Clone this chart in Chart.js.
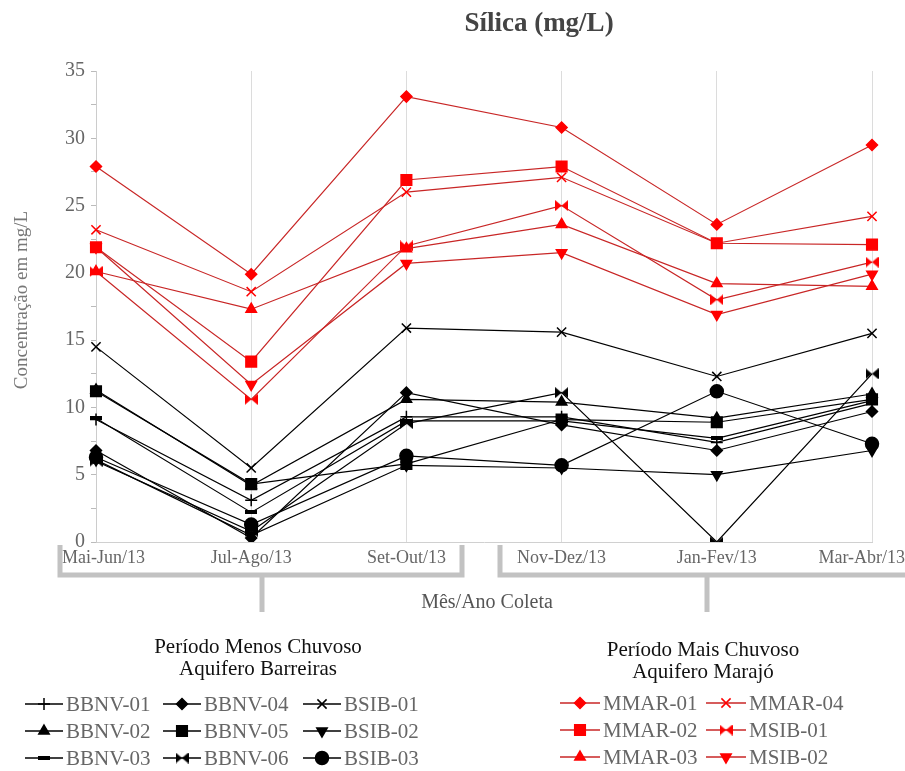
<!DOCTYPE html>
<html>
<head>
<meta charset="utf-8">
<script src="https://cdn.jsdelivr.net/npm/chart.js@4.4.0/dist/chart.umd.min.js"></script>
<style>
  html, body { margin: 0; padding: 0; background: #fff; }
</style>
</head>
<body>
<canvas id="chart" width="905" height="771"></canvas>
<script>
const categories = ['Mai-Jun/13', 'Jul-Ago/13', 'Set-Out/13', 'Nov-Dez/13', 'Jan-Fev/13', 'Mar-Abr/13'];

// Aquifero Barreiras (pretas)
const bbnv01 = [9.1, 3.1, 9.3, 9.3, 7.4, 10.3];
const bbnv02 = [11.3, 4.2, 10.6, 10.4, 9.2, 11.0];
const bbnv03 = [9.2, 2.2, 9.0, 9.0, 7.7, 10.5];
const bbnv04 = [6.8, 0.3, 11.1, 8.7, 6.8, 9.7];
const bbnv05 = [11.2, 4.3, 5.8, 9.1, 8.9, 10.6];
const bbnv06 = [6.0, 0.8, 8.8, 11.1, 0.0, 12.5];
const bsib01 = [14.5, 5.5, 15.9, 15.6, 12.3, 15.5];
const bsib02 = [6.1, 0.5, 5.7, 5.5, 5.0, 6.8];
const bsib03 = [6.3, 1.3, 6.4, 5.7, 11.2, 7.3];

// Aquifero Marajó (vermelhas)
const mmar01 = [27.9, 19.9, 33.1, 30.8, 23.6, 29.5];
const mmar02 = [21.9, 13.4, 26.9, 27.9, 22.2, 22.1];
const mmar03 = [20.1, 17.3, 21.8, 23.6, 19.2, 19.0];
const mmar04 = [23.2, 18.6, 26.0, 27.1, 22.2, 24.2];
const msib01 = [20.1, 10.6, 22.0, 25.0, 18.0, 20.8];
const msib02 = [21.9, 11.7, 20.7, 21.5, 16.9, 19.9];

const titleText = 'Sílica (mg/L)';
const yTitle = 'Concentração em mg/L';
const xTitle = 'Mês/Ano Coleta';
const groupLeft = ['Período Menos Chuvoso', 'Aquifero Barreiras'];
const groupRight = ['Período Mais Chuvoso', 'Aquifero Marajó'];

const BLACK = '#000';
const RED_LINE = '#c82626';
const RED_PT = '#f00';
const SERIF = '"Liberation Serif", "DejaVu Serif", serif';

// marcadores desenhados a mao
function bowtie(color) {
  const c = document.createElement('canvas');
  c.width = 13; c.height = 11;
  const g = c.getContext('2d');
  g.fillStyle = color;
  g.beginPath(); g.moveTo(0, 0); g.lineTo(6.5, 5.5); g.lineTo(0, 11); g.closePath(); g.fill();
  g.beginPath(); g.moveTo(13, 0); g.lineTo(6.5, 5.5); g.lineTo(13, 11); g.closePath(); g.fill();
  return c;
}
function dash(color) {
  const c = document.createElement('canvas');
  c.width = 12; c.height = 4;
  const g = c.getContext('2d');
  g.fillStyle = color;
  g.fillRect(0, 0, 12, 4);
  return c;
}

function series(label, data, color, lineColor, style, radius, rotation) {
  return {
    label: label,
    data: data,
    borderColor: lineColor,
    backgroundColor: color,
    borderWidth: 1.2,
    pointStyle: style,
    pointRadius: radius,
    pointRotation: rotation || 0,
    pointBackgroundColor: color,
    pointBorderColor: color,
    pointBorderWidth: 1.5,
    tension: 0,
    fill: false
  };
}

const blackSets = [
  series('BBNV-01', bbnv01, BLACK, BLACK, 'cross', 6),
  series('BBNV-02', bbnv02, BLACK, BLACK, 'triangle', 6),
  series('BBNV-03', bbnv03, BLACK, BLACK, dash(BLACK), 6),
  series('BBNV-04', bbnv04, BLACK, BLACK, 'rectRot', 5.5),
  series('BBNV-05', bbnv05, BLACK, BLACK, 'rect', 7.5),
  series('BBNV-06', bbnv06, BLACK, BLACK, bowtie(BLACK), 6),
  series('BSIB-01', bsib01, BLACK, BLACK, 'crossRot', 6.5),
  series('BSIB-02', bsib02, BLACK, BLACK, 'triangle', 6, 180),
  series('BSIB-03', bsib03, BLACK, BLACK, 'circle', 6.5)
];
const redSets = [
  series('MMAR-01', mmar01, RED_PT, RED_LINE, 'rectRot', 5.5),
  series('MMAR-02', mmar02, RED_PT, RED_LINE, 'rect', 7.5),
  series('MMAR-03', mmar03, RED_PT, RED_LINE, 'triangle', 6),
  series('MMAR-04', mmar04, RED_PT, RED_LINE, 'crossRot', 6.5),
  series('MSIB-01', msib01, RED_PT, RED_LINE, bowtie(RED_PT), 6),
  series('MSIB-02', msib02, RED_PT, RED_LINE, 'triangle', 6, 180)
];

function drawMarker(ctx, ds, cx, cy) {
  ctx.fillStyle = ds.pointBackgroundColor;
  ctx.strokeStyle = ds.pointBorderColor;
  ctx.lineWidth = ds.pointBorderWidth;
  Chart.helpers.drawPoint(ctx, {
    pointStyle: ds.pointStyle,
    radius: ds.pointRadius,
    rotation: ds.pointRotation,
    borderWidth: ds.pointBorderWidth
  }, cx, cy);
}

function drawItem(ctx, ds, x0, len, y) {
  ctx.strokeStyle = ds.borderColor;
  ctx.lineWidth = 1.3;
  ctx.beginPath(); ctx.moveTo(x0, y); ctx.lineTo(x0 + len, y); ctx.stroke();
  drawMarker(ctx, ds, x0 + len / 2, y);
  ctx.fillStyle = '#666';
  ctx.font = '21px ' + SERIF;
  ctx.textAlign = 'left';
  ctx.textBaseline = 'middle';
  ctx.fillText(ds.label, x0 + len + 3, y + 1);
}

const extras = {
  id: 'extras',
  afterDraw(chart) {
    const ctx = chart.ctx;
    const xs = chart.scales.x;
    ctx.save();

    // titulo
    ctx.font = 'bold 27px ' + SERIF;
    ctx.fillStyle = '#444';
    ctx.textAlign = 'center';
    ctx.textBaseline = 'middle';
    ctx.fillText(titleText, 539, 24);

    // rotulos das categorias
    ctx.font = '18px ' + SERIF;
    ctx.fillStyle = '#666';
    categories.forEach((c, i) => {
      const w = ctx.measureText(c).width;
      let cx = xs.getPixelForValue(i);
      cx = Math.max(cx, 62 + w / 2);
      cx = Math.min(cx, chart.width - w / 2);
      ctx.fillText(c, cx, 558);
    });

    // chaves cinzas
    ctx.strokeStyle = '#c2c2c2';
    ctx.lineWidth = 5;
    ctx.beginPath();
    ctx.moveTo(60, 545); ctx.lineTo(60, 575); ctx.lineTo(462, 575); ctx.lineTo(462, 545);
    ctx.moveTo(262, 575); ctx.lineTo(262, 612);
    ctx.moveTo(500, 545); ctx.lineTo(500, 575); ctx.lineTo(910, 575);
    ctx.moveTo(707, 575); ctx.lineTo(707, 612);
    ctx.stroke();

    ctx.font = '20px ' + SERIF;
    ctx.fillStyle = '#555';
    ctx.fillText(xTitle, 487, 603);

    // titulo eixo y
    ctx.save();
    ctx.translate(22, 300);
    ctx.rotate(-Math.PI / 2);
    ctx.font = '19px ' + SERIF;
    ctx.fillStyle = '#777';
    ctx.fillText(yTitle, 0, 0);
    ctx.restore();

    // legendas
    ctx.font = '21px ' + SERIF;
    ctx.fillStyle = '#111';
    ctx.textAlign = 'center';
    ctx.fillText(groupLeft[0], 258, 647);
    ctx.fillText(groupLeft[1], 258, 669);
    ctx.fillText(groupRight[0], 703, 650);
    ctx.fillText(groupRight[1], 703, 672);

    const sets = chart.data.datasets;
    const rowsL = [704, 731, 758];
    const colsL = [25, 163, 303];
    for (let i = 0; i < 9; i++) {
      drawItem(ctx, sets[i], colsL[Math.floor(i / 3)], 38, rowsL[i % 3]);
    }
    const rowsR = [703, 730, 757];
    const colsR = [560, 706];
    for (let i = 0; i < 6; i++) {
      drawItem(ctx, sets[9 + i], colsR[Math.floor(i / 3)], 40, rowsR[i % 3]);
    }
    ctx.restore();
  }
};

new Chart(document.getElementById('chart'), {
  type: 'line',
  data: {
    labels: categories,
    datasets: blackSets.concat(redSets)
  },
  options: {
    responsive: false,
    animation: false,
    devicePixelRatio: 1,
    layout: { padding: { top: 71, right: 33, left: 0, bottom: 0 } },
    plugins: {
      legend: { display: false },
      tooltip: { enabled: false },
      title: { display: false }
    },
    scales: {
      x: {
        type: 'category',
        offset: false,
        ticks: { display: false },
        grid: { color: '#dcdcdc', drawTicks: false },
        border: { color: '#d0d0d0' },
        afterFit(s) { s.height = 771 - 542; }
      },
      y: {
        min: 0,
        max: 35,
        ticks: {
          stepSize: 2.5,
          autoSkip: false,
          callback: v => (v % 5 === 0 ? v : ''),
          font: { family: 'Liberation Serif', size: 20 },
          color: '#666',
          padding: 6
        },
        grid: { drawOnChartArea: false, tickLength: 5, color: '#bbb' },
        border: { color: '#ccc' },
        afterFit(s) { s.width = 96; }
      }
    }
  },
  plugins: [extras]
});
</script>
</body>
</html>
